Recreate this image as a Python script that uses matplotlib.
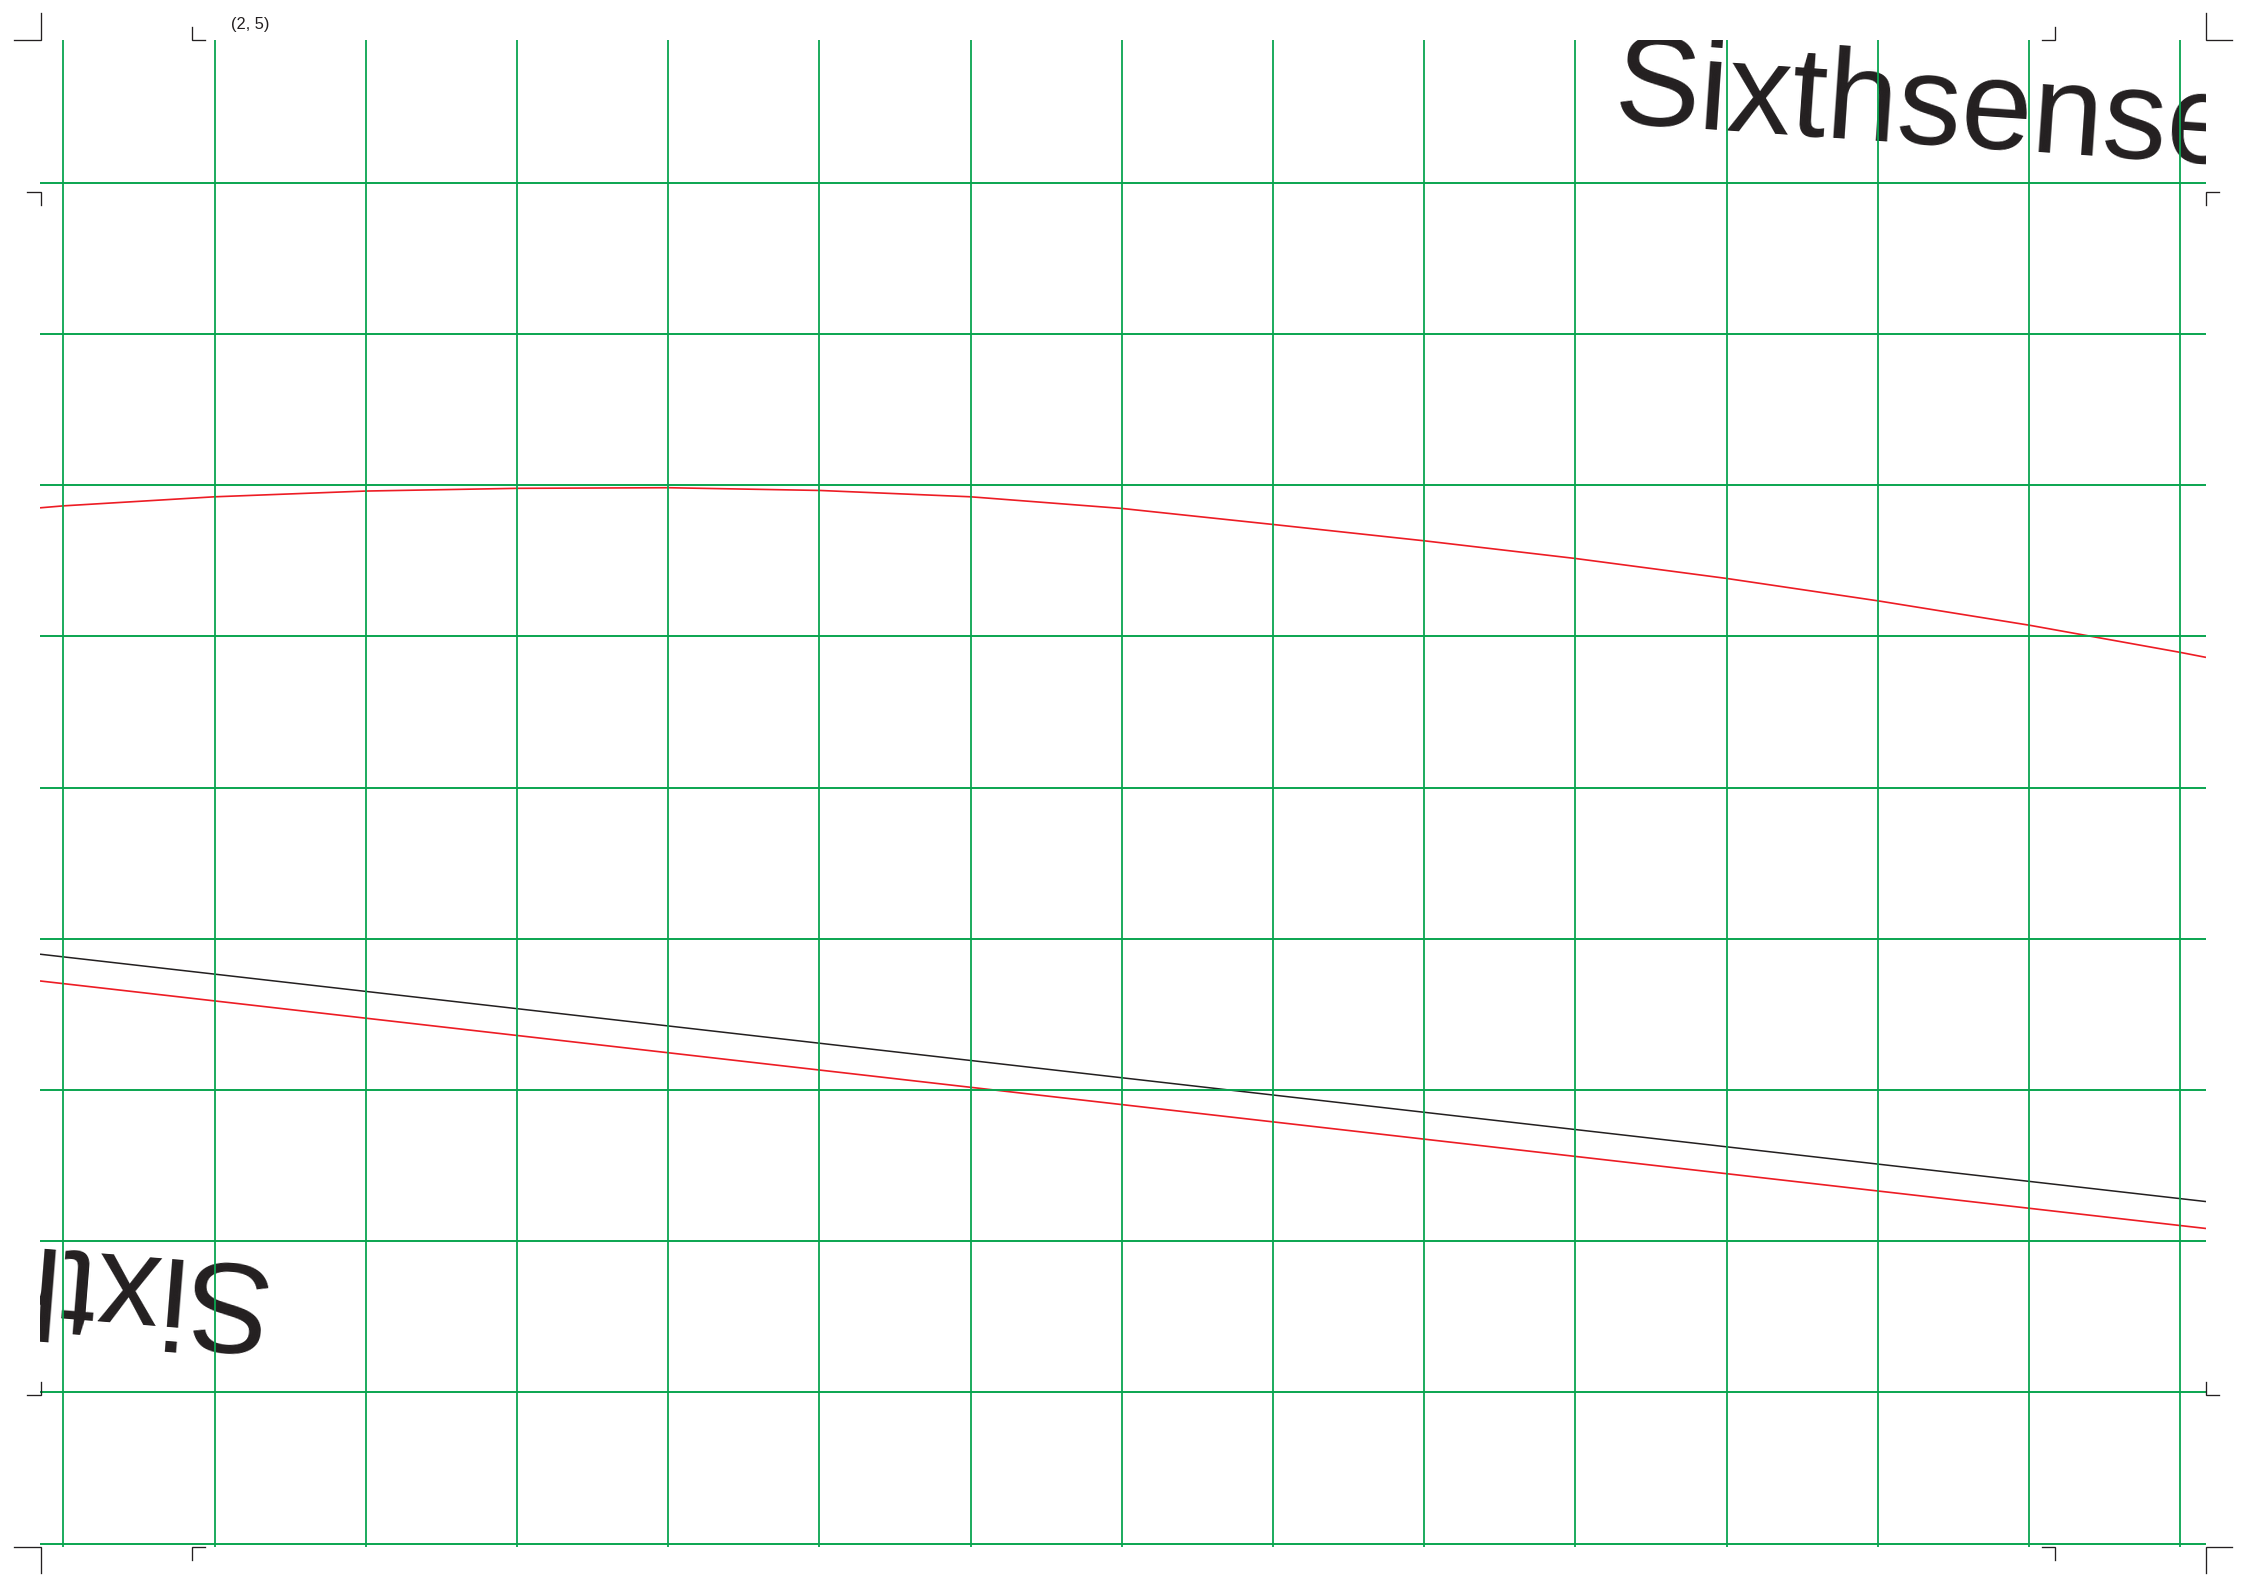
import matplotlib
matplotlib.use("Agg")
import matplotlib.pyplot as plt
from matplotlib.lines import Line2D

# ---------------- data ----------------
grid_x = list(range(15))          # vertical green guide lines
grid_y = list(range(10))          # horizontal green guide lines

curve_x = [-0.154, 0, 1, 2, 3, 4, 5, 6, 7, 8, 9, 10, 11, 12, 13, 14, 14.17]
curve_red_top = [6.850, 6.863, 6.923, 6.961, 6.979, 6.983, 6.965, 6.923,
                 6.846, 6.740, 6.632, 6.515, 6.383, 6.235, 6.074, 5.894, 5.861]

line_x = [-0.154, 14.17]
line_black = [3.898, 2.262]
line_red = [3.721, 2.084]

title_top = "Sixthsense"
title_bottom = "Sixthsense"
coord_label = "(2, 5)"

# ---------------- figure ----------------
W, H = 2246, 1587
DPI = 100
fig = plt.figure(figsize=(W / DPI, H / DPI), dpi=DPI)
fig.patch.set_facecolor("white")

L, R, T, B = 40, 2206, 40, 1547
ax = fig.add_axes([L / W, 1 - B / H, (R - L) / W, (B - T) / H])
ax.set_xlim(-0.154, 14.17)
ax.set_ylim(-0.0225, 9.944)
ax.set_axis_off()

GREEN = "#0aa550"
RED = "#ed1c24"
INK = "#231f20"

for gx in grid_x:
    ax.axvline(gx, color=GREEN, lw=1.3, zorder=3)
for gy in grid_y:
    ax.axhline(gy, color=GREEN, lw=1.4, zorder=3)

ax.plot(curve_x, curve_red_top, color=RED, lw=1.2, zorder=2, solid_capstyle="butt")
ax.plot(line_x, line_black, color=INK, lw=1.1, zorder=2, solid_capstyle="butt")
ax.plot(line_x, line_red, color=RED, lw=1.2, zorder=2, solid_capstyle="butt")

FONT = "Liberation Sans"
ax.text(0.7258, 0.9447, title_top, transform=ax.transAxes, fontsize=92,
        family=FONT, color=INK, rotation=-3.94, rotation_mode="anchor",
        ha="left", va="baseline", clip_on=True, zorder=1)
ax.text(0.1039, 0.1869, title_bottom, transform=ax.transAxes, fontsize=92,
        family=FONT, color=INK, rotation=175.4, rotation_mode="anchor",
        ha="left", va="baseline", clip_on=True, zorder=1)

fig.text(231 / W, 1 - 29.3 / H, coord_label, fontsize=11.8, family=FONT,
         color=INK, ha="left", va="baseline")

# crop / registration marks (pixel coordinates from top-left)
marks = [
    [(14, 40), (40.5, 40), (40.5, 13)],
    [(191.7, 27), (191.7, 40), (205, 40)],
    [(27, 191.7), (40.5, 191.7), (40.5, 205)],
    [(2041.7, 40), (2055, 40), (2055, 27)],
    [(2205.7, 13), (2205.7, 40), (2232, 40)],
    [(2219, 191.7), (2205.7, 191.7), (2205.7, 205)],
    [(40.5, 1382), (40.5, 1395), (27, 1395)],
    [(14, 1546.7), (40.5, 1546.7), (40.5, 1573)],
    [(205, 1546.7), (191.7, 1546.7), (191.7, 1560)],
    [(2205.7, 1382), (2205.7, 1395), (2219, 1395)],
    [(2041.7, 1546.7), (2055, 1546.7), (2055, 1560)],
    [(2232, 1546.7), (2205.7, 1546.7), (2205.7, 1573)],
]
for m in marks:
    xs = [p[0] / W for p in m]
    ys = [1 - p[1] / H for p in m]
    fig.add_artist(Line2D(xs, ys, transform=fig.transFigure, color=INK,
                          lw=0.95, solid_joinstyle="miter"))

fig.savefig("out.png", dpi=DPI, facecolor="white")
